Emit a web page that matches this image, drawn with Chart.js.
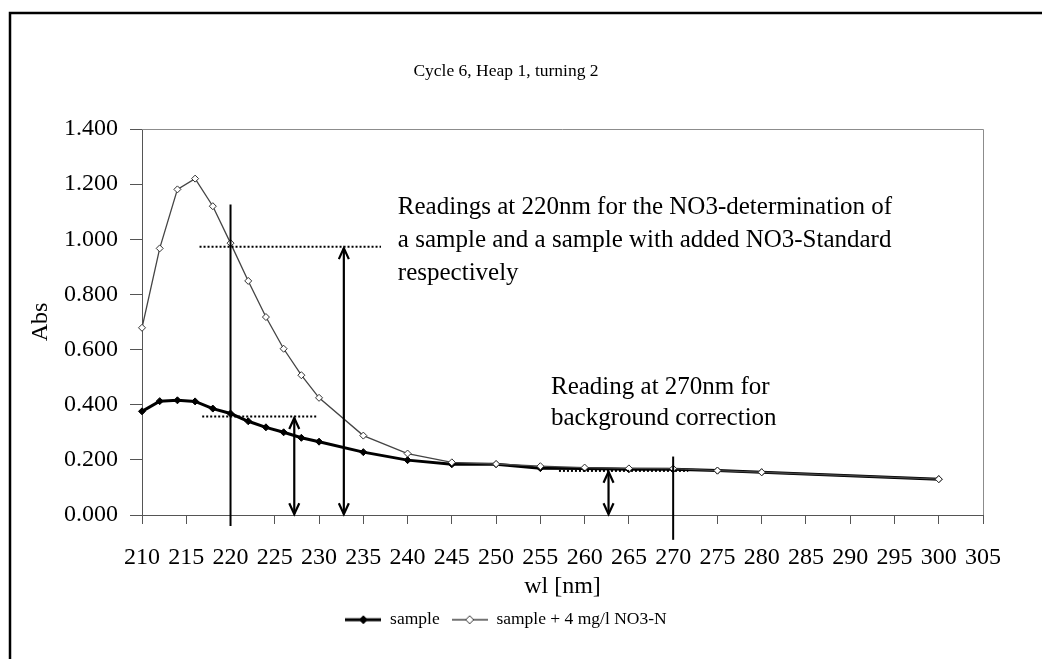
<!DOCTYPE html>
<html>
<head>
<meta charset="utf-8">
<script src="https://cdn.jsdelivr.net/npm/chart.js@4.4.1/dist/chart.umd.min.js"></script>
<style>
  html, body { margin: 0; padding: 0; background: #fff; }
  #wrap { width: 1042px; height: 659px; }
</style>
</head>
<body>
<div id="wrap"><canvas id="absChart" width="1042" height="659"></canvas></div>
<script>
// ---- data ----
const wavelengths = [210, 212, 214, 216, 218, 220, 222, 224, 226, 228, 230, 235, 240, 245, 250, 255, 260, 265, 270, 275, 280, 300];
const sampleAbs   = [0.376, 0.413, 0.416, 0.412, 0.386, 0.368, 0.340, 0.318, 0.300, 0.280, 0.266, 0.228, 0.199, 0.184, 0.184, 0.170, 0.169, 0.166, 0.166, 0.161, 0.155, 0.130];
const spikedAbs   = [0.679, 0.967, 1.181, 1.220, 1.120, 0.986, 0.849, 0.718, 0.603, 0.507, 0.425, 0.288, 0.223, 0.191, 0.185, 0.177, 0.172, 0.169, 0.168, 0.161, 0.155, 0.130];
const seriesNames = ['sample', 'sample + 4 mg/l NO3-N'];

const xTickValues = [210, 215, 220, 225, 230, 235, 240, 245, 250, 255, 260, 265, 270, 275, 280, 285, 290, 295, 300, 305];
const yTickValues = [0, 0.2, 0.4, 0.6, 0.8, 1.0, 1.2, 1.4];

// annotations, in nm / Abs units
const readingLines = [[220, 1.126, -0.04], [270, 0.212, -0.09]];          // x, yTop, yBottom
const levelLines   = [[216.5, 237.0, 0.973], [216.8, 229.8, 0.357], [257.1, 271.7, 0.160]]; // x1, x2, y
const arrowLines   = [[232.8, 0.968, 0.003], [227.2, 0.352, 0.003], [262.7, 0.157, 0.003]]; // x, yTop, yBottom
const note220 = ['Readings at 220nm for the NO3-determination of', 'a sample and a sample with added NO3-Standard', 'respectively'];
const note270 = ['Reading at 270nm for', 'background correction'];
const note220At = [238.9, 1.115];
const note270At = [256.2, 0.464];

const SERIF = "'Liberation Serif', 'Times New Roman', serif";
Chart.defaults.font.family = SERIF;
Chart.defaults.color = '#000';

// little line+marker pictures for the legend
function legendIcon(lineW, lineColor, fill, stroke, r) {
    const c = document.createElement('canvas');
    c.width = 36; c.height = 14;
    const g = c.getContext('2d');
    g.strokeStyle = lineColor; g.lineWidth = lineW;
    g.beginPath(); g.moveTo(0, 7); g.lineTo(36, 7); g.stroke();
    g.beginPath();
    g.moveTo(18, 7 - r); g.lineTo(18 + r, 7); g.lineTo(18, 7 + r); g.lineTo(18 - r, 7); g.closePath();
    g.fillStyle = fill; g.fill();
    g.lineWidth = 1; g.strokeStyle = stroke; g.stroke();
    return c;
}
const legendIcons = [
    legendIcon(3, '#000', '#000', '#000', 4),
    legendIcon(1.3, '#444', '#fff', '#333', 4)
];

const annotate = {
    id: 'annotate',
    beforeDraw(chart) {
        const ctx = chart.ctx;
        ctx.save();
        ctx.fillStyle = '#fff';
        ctx.fillRect(0, 0, chart.width, chart.height);
        // outer frame (cut off at right and bottom)
        ctx.strokeStyle = '#000';
        ctx.lineWidth = 2.5;
        ctx.beginPath();
        ctx.moveTo(10, chart.height); ctx.lineTo(10, 13); ctx.lineTo(chart.width, 13);
        ctx.stroke();
        ctx.restore();
    },
    beforeDatasetsDraw(chart) {
        const {ctx, chartArea: a} = chart;
        ctx.save();
        ctx.strokeStyle = '#8c8c8c';
        ctx.lineWidth = 1;
        ctx.beginPath();
        ctx.moveTo(a.left, a.top + 0.5); ctx.lineTo(a.right + 0.5, a.top + 0.5); ctx.lineTo(a.right + 0.5, a.bottom);
        ctx.stroke();
        ctx.restore();
    },
    afterDatasetsDraw(chart) {
        const ctx = chart.ctx;
        const xs = chart.scales.x, ys = chart.scales.y;
        const px = v => xs.getPixelForValue(v), py = v => ys.getPixelForValue(v);
        ctx.save();
        ctx.strokeStyle = '#000';
        ctx.fillStyle = '#000';

        // reading wavelengths
        ctx.lineWidth = 2;
        readingLines.forEach(([x, y1, y2]) => {
            ctx.beginPath(); ctx.moveTo(px(x), py(y1)); ctx.lineTo(px(x), py(y2)); ctx.stroke();
        });

        // dotted levels
        ctx.setLineDash([2, 2]);
        levelLines.forEach(([x1, x2, y]) => {
            ctx.beginPath(); ctx.moveTo(px(x1), py(y)); ctx.lineTo(px(x2), py(y)); ctx.stroke();
        });
        ctx.setLineDash([]);

        // double arrows
        ctx.lineWidth = 2.2;
        arrowLines.forEach(([x, y1, y2]) => {
            const X = px(x), T = py(y1), B = py(y2);
            ctx.beginPath(); ctx.moveTo(X, T); ctx.lineTo(X, B); ctx.stroke();
            ctx.beginPath();
            ctx.moveTo(X - 5, T + 11); ctx.lineTo(X, T); ctx.lineTo(X + 5, T + 11);
            ctx.moveTo(X - 5, B - 11); ctx.lineTo(X, B); ctx.lineTo(X + 5, B - 11);
            ctx.stroke();
        });

        // notes
        ctx.font = '25px ' + SERIF;
        ctx.textBaseline = 'middle';
        ctx.textAlign = 'left';
        note220.forEach((t, i) => ctx.fillText(t, px(note220At[0]), py(note220At[1]) + i * 33));
        note270.forEach((t, i) => ctx.fillText(t, px(note270At[0]), py(note270At[1]) + i * 31));
        ctx.restore();
    }
};

new Chart(document.getElementById('absChart'), {
    type: 'scatter',
    data: {
        datasets: [
            {
                label: seriesNames[0],
                data: wavelengths.map((w, i) => ({x: w, y: sampleAbs[i]})),
                showLine: true,
                borderColor: '#000',
                borderWidth: 3,
                pointStyle: 'rectRot',
                pointRadius: 3.5,
                pointBackgroundColor: '#000',
                pointBorderColor: '#000',
                pointBorderWidth: 1,
                clip: false,
                order: 2
            },
            {
                label: seriesNames[1],
                data: wavelengths.map((w, i) => ({x: w, y: spikedAbs[i]})),
                showLine: true,
                borderColor: '#444',
                borderWidth: 1.3,
                pointStyle: 'rectRot',
                pointRadius: 3.5,
                pointBackgroundColor: '#fff',
                pointBorderColor: '#333',
                pointBorderWidth: 1,
                clip: false,
                order: 1
            }
        ]
    },
    options: {
        responsive: false,
        animation: false,
        layout: { padding: { left: 29, right: 59, top: 0, bottom: 20.5 } },
        plugins: {
            title: {
                display: true,
                text: 'Cycle 6, Heap 1, turning 2',
                font: { size: 17.5, weight: 'normal' },
                padding: { top: 61, bottom: 47 }
            },
            legend: {
                position: 'bottom',
                labels: {
                    font: { size: 17.5 },
                    usePointStyle: true,
                    pointStyleWidth: 36,
                    padding: 12,
                    sort: (a, b) => a.datasetIndex - b.datasetIndex,
                    generateLabels(chart) {
                        const items = Chart.defaults.plugins.legend.labels.generateLabels(chart);
                        items.forEach(it => { it.pointStyle = legendIcons[it.datasetIndex]; });
                        return items;
                    }
                }
            },
            tooltip: { enabled: false }
        },
        scales: {
            x: {
                type: 'linear',
                min: xTickValues[0],
                max: xTickValues[xTickValues.length - 1],
                afterBuildTicks: s => { s.ticks = xTickValues.map(v => ({value: v})); },
                afterFit: s => { s.height = 84; },
                grid: { drawOnChartArea: false, tickLength: 9, tickColor: '#555' },
                border: { color: '#555', width: 1 },
                ticks: { font: { size: 24 }, padding: 19, maxRotation: 0, autoSkip: false },
                title: { display: true, text: 'wl [nm]', font: { size: 24, lineHeight: 1 }, padding: 0 }
            },
            y: {
                min: yTickValues[0],
                max: yTickValues[yTickValues.length - 1],
                afterBuildTicks: s => { s.ticks = yTickValues.map(v => ({value: v})); },
                afterFit: s => { s.width = 113; },
                grid: { drawOnChartArea: false, tickLength: 12, tickColor: '#555' },
                border: { color: '#555', width: 1 },
                ticks: { font: { size: 24 }, padding: 12, callback: v => v.toFixed(3) },
                title: { display: true, text: 'Abs', font: { size: 24, lineHeight: 1 }, padding: 0 }
            }
        }
    },
    plugins: [annotate]
});
</script>
</body>
</html>
